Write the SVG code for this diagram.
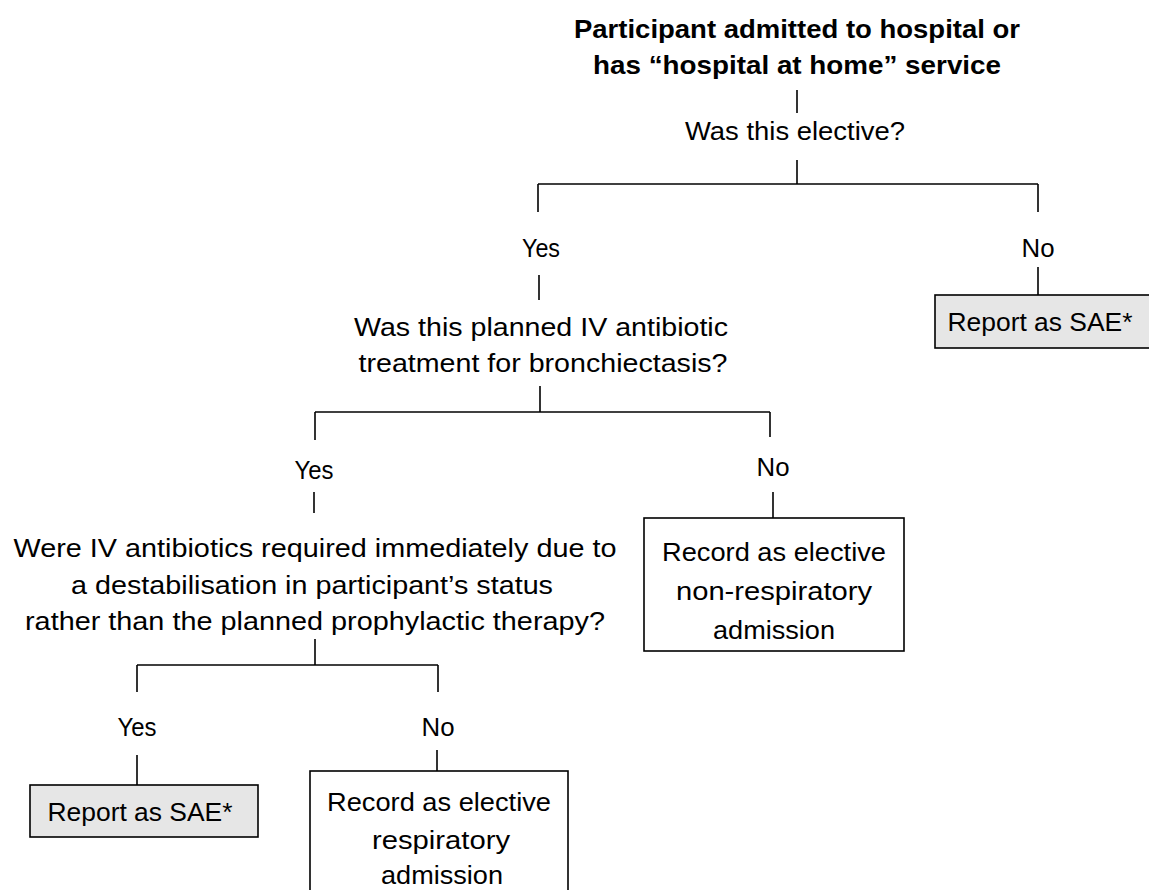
<svg xmlns="http://www.w3.org/2000/svg" width="1149" height="890" viewBox="0 0 1149 890">
<style>
text{font-family:"Liberation Sans",Arial,sans-serif;font-size:26px;fill:#000;text-anchor:middle}
.b{font-weight:bold}
.c line{stroke:#000;stroke-width:1.6}
.box{stroke:#000;stroke-width:1.6;fill:#fff}
.g{fill:#e6e6e6}
</style>
<rect width="1149" height="890" fill="#fff"/>
<g class="c" id="connectors">
<line x1="797" y1="90" x2="797" y2="113"/>
<line x1="797" y1="160" x2="797" y2="184"/>
<line x1="538" y1="184" x2="1038" y2="184"/>
<line x1="538" y1="184" x2="538" y2="212"/>
<line x1="1038" y1="184" x2="1038" y2="212"/>
<line x1="539" y1="275" x2="539" y2="300"/>
<line x1="1038" y1="267" x2="1038" y2="295"/>
<line x1="540" y1="386" x2="540" y2="412"/>
<line x1="315" y1="412" x2="770" y2="412"/>
<line x1="315" y1="412" x2="315" y2="440"/>
<line x1="770" y1="412" x2="770" y2="437"/>
<line x1="314" y1="492" x2="314" y2="513"/>
<line x1="773" y1="492" x2="773" y2="518"/>
<line x1="315" y1="639" x2="315" y2="665"/>
<line x1="137" y1="665" x2="438" y2="665"/>
<line x1="137" y1="665" x2="137" y2="692"/>
<line x1="438" y1="665" x2="438" y2="692"/>
<line x1="137" y1="755" x2="137" y2="785"/>
<line x1="437" y1="750" x2="437" y2="771"/>
</g>
<g id="start">
<text class="b" x="797" y="38" textLength="446" lengthAdjust="spacingAndGlyphs">Participant admitted to hospital or</text>
<text class="b" x="797" y="74" textLength="408" lengthAdjust="spacingAndGlyphs">has “hospital at home” service</text>
</g>
<g id="q1"><text x="795" y="140" textLength="220" lengthAdjust="spacingAndGlyphs">Was this elective?</text></g>
<g id="yes1"><text x="541" y="257" textLength="38" lengthAdjust="spacingAndGlyphs">Yes</text></g>
<g id="no1"><text x="1038" y="257" textLength="33" lengthAdjust="spacingAndGlyphs">No</text></g>
<g id="sae1">
<rect class="box g" x="935" y="295" width="220" height="53"/>
<text x="1040" y="331" textLength="185" lengthAdjust="spacingAndGlyphs">Report as SAE*</text>
</g>
<g id="q2">
<text x="541" y="336" textLength="374" lengthAdjust="spacingAndGlyphs">Was this planned IV antibiotic</text>
<text x="543" y="372" textLength="369" lengthAdjust="spacingAndGlyphs">treatment for bronchiectasis?</text>
</g>
<g id="yes2"><text x="314" y="479" textLength="39" lengthAdjust="spacingAndGlyphs">Yes</text></g>
<g id="no2"><text x="773" y="476" textLength="33" lengthAdjust="spacingAndGlyphs">No</text></g>
<g id="nonresp">
<rect class="box" x="644" y="518" width="260" height="133"/>
<text x="774" y="561" textLength="224" lengthAdjust="spacingAndGlyphs">Record as elective</text>
<text x="774" y="600" textLength="196" lengthAdjust="spacingAndGlyphs">non-respiratory</text>
<text x="774" y="639" textLength="122" lengthAdjust="spacingAndGlyphs">admission</text>
</g>
<g id="q3">
<text x="315" y="557" textLength="603" lengthAdjust="spacingAndGlyphs">Were IV antibiotics required immediately due to</text>
<text x="312" y="594" textLength="482" lengthAdjust="spacingAndGlyphs">a destabilisation in participant’s status</text>
<text x="315" y="630" textLength="580" lengthAdjust="spacingAndGlyphs">rather than the planned prophylactic therapy?</text>
</g>
<g id="yes3"><text x="137" y="736" textLength="39" lengthAdjust="spacingAndGlyphs">Yes</text></g>
<g id="no3"><text x="438" y="736" textLength="33" lengthAdjust="spacingAndGlyphs">No</text></g>
<g id="sae2">
<rect class="box g" x="30" y="785" width="228" height="52"/>
<text x="140" y="821" textLength="185" lengthAdjust="spacingAndGlyphs">Report as SAE*</text>
</g>
<g id="resp">
<rect class="box" x="310" y="771" width="258" height="130"/>
<text x="439" y="811" textLength="224" lengthAdjust="spacingAndGlyphs">Record as elective</text>
<text x="441" y="849" textLength="138" lengthAdjust="spacingAndGlyphs">respiratory</text>
<text x="442" y="884" textLength="122" lengthAdjust="spacingAndGlyphs">admission</text>
</g>
</svg>
